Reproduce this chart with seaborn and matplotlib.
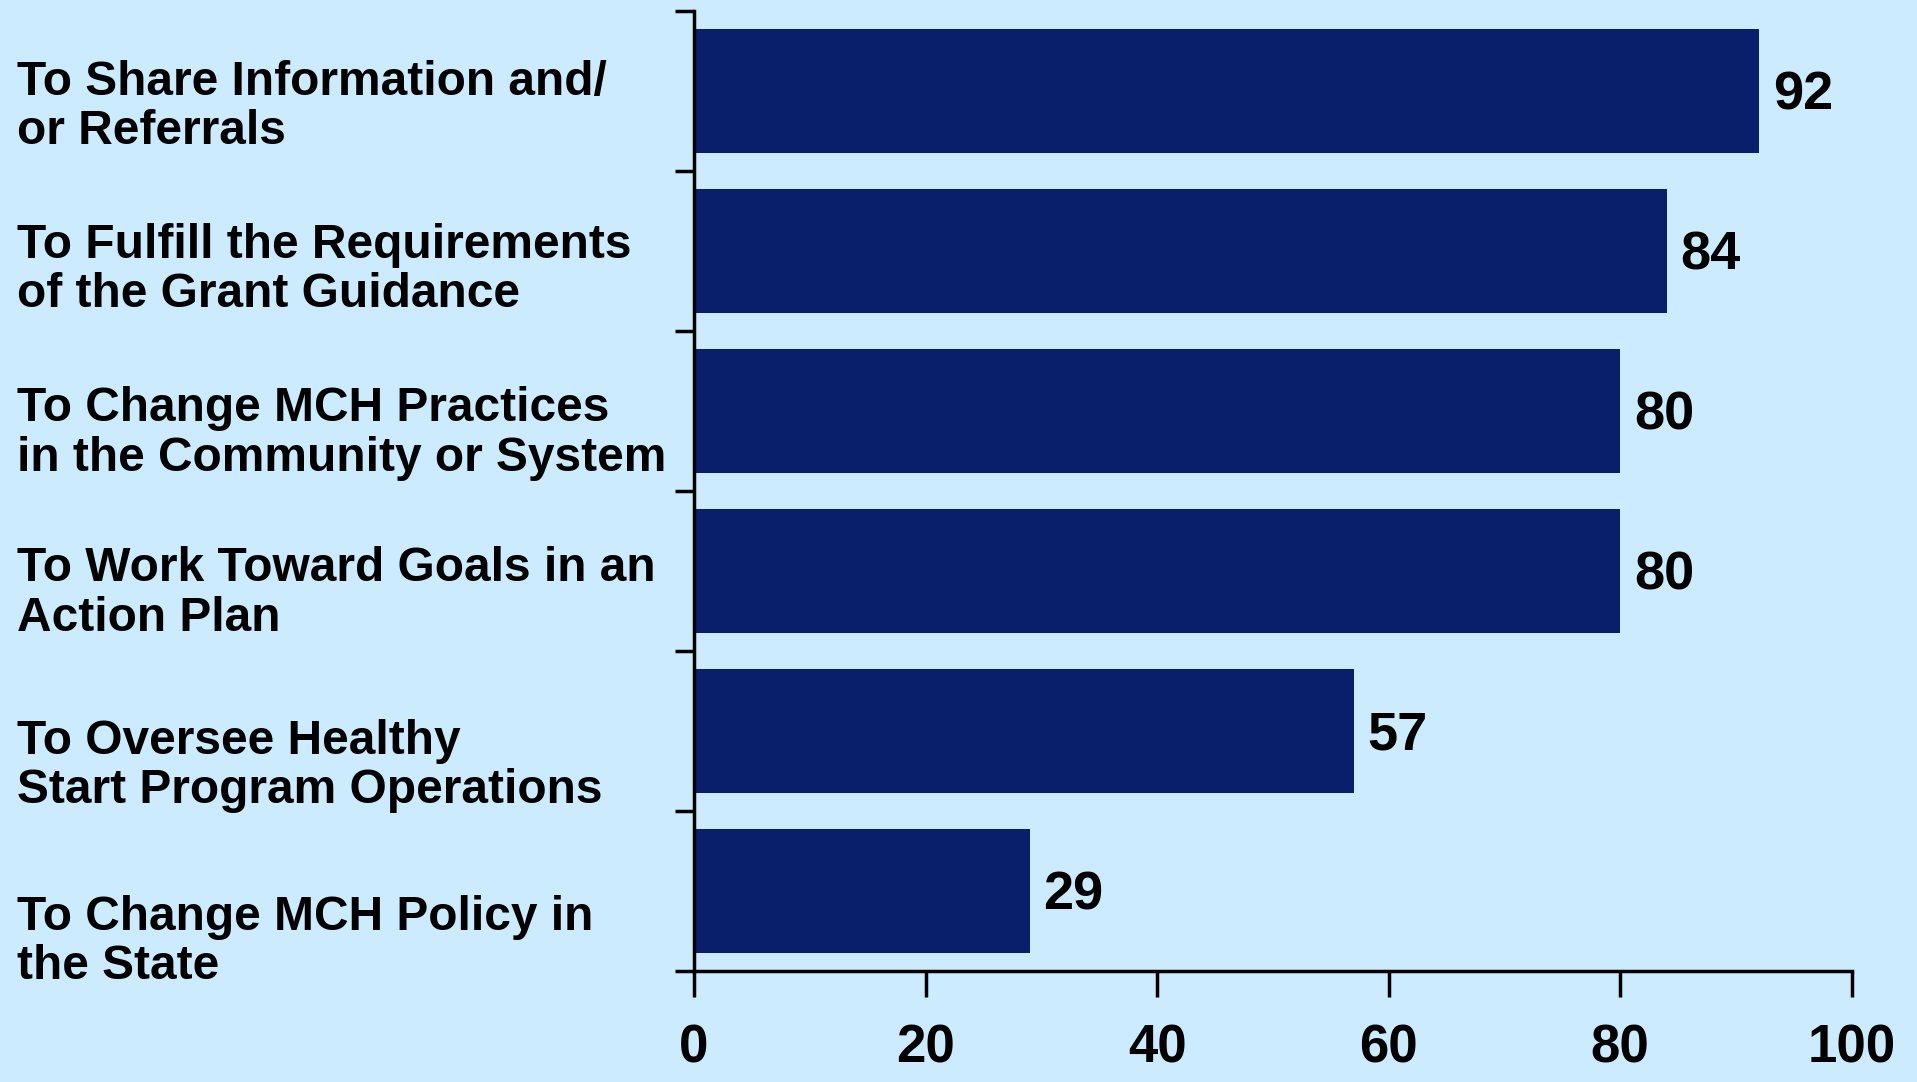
import pandas as pd
import matplotlib.pyplot as plt
import matplotlib.transforms as mtransforms
import seaborn as sns

# data
purposes = [
    "To Share Information and/\nor Referrals",
    "To Fulfill the Requirements\nof the Grant Guidance",
    "To Change MCH Practices\nin the Community or System",
    "To Work Toward Goals in an\nAction Plan",
    "To Oversee Healthy\nStart Program Operations",
    "To Change MCH Policy in\nthe State",
]
percent = [92, 84, 80, 80, 57, 29]
x_ticks = [0, 20, 40, 60, 80, 100]

# labels sit a bit below each bar's centre in the original
label_shift = [0.10, 0.12, 0.14, 0.14, 0.22, 0.32]

bg = "#CCEBFF"
navy = "#0A1F6B"

df = pd.DataFrame({"purpose": purposes, "percent": percent})

sns.set_style("ticks")
plt.rcParams["font.family"] = ["Liberation Sans", "DejaVu Sans"]
plt.rcParams["font.weight"] = "bold"
plt.rcParams["text.color"] = "black"
plt.rcParams["xtick.color"] = "black"
plt.rcParams["ytick.color"] = "black"

fig = plt.figure(figsize=(19.17, 10.82), dpi=100, facecolor=bg)
ax = fig.add_axes([0.362, 0.1026, 0.604, 0.8872], facecolor=bg)

sns.barplot(data=df, x="percent", y="purpose", orient="h", color=navy,
            saturation=1, width=0.78, ax=ax, edgecolor="none")

ax.set_xlim(0, 100)
ax.set_ylim(len(purposes) - 0.5, -0.5)
ax.set_xticks(x_ticks)
ax.set_xticklabels([str(t) for t in x_ticks], fontsize=38, fontweight="bold")
ax.set_yticks([i - 0.5 for i in range(len(purposes) + 1)])
ax.set_yticklabels([])
ax.tick_params(axis="x", length=19, width=2.5, pad=19, colors="black")
ax.tick_params(axis="y", length=14, width=2.5, colors="black")
ax.set_xlabel("")
ax.set_ylabel("")
for side in ["top", "right"]:
    ax.spines[side].set_visible(False)
for side in ["left", "bottom"]:
    ax.spines[side].set_linewidth(2.5)
    ax.spines[side].set_color("black")

# value labels, a touch right of and below the bar end
for i, v in enumerate(percent):
    ax.annotate(str(v), xy=(v, i), xytext=(10, -3), textcoords="offset points",
                ha="left", va="center", fontsize=39, fontweight="bold",
                color="black")

# category labels on the left
trans = mtransforms.blended_transform_factory(fig.transFigure, ax.transData)
for i, (txt, sh) in enumerate(zip(purposes, label_shift)):
    ax.text(0.009, i + sh, txt, transform=trans, ha="left", va="center",
            fontsize=34.5, fontweight="bold", linespacing=1.12,
            color="black", clip_on=False)

fig.savefig("out.png", dpi=100, facecolor=bg)
